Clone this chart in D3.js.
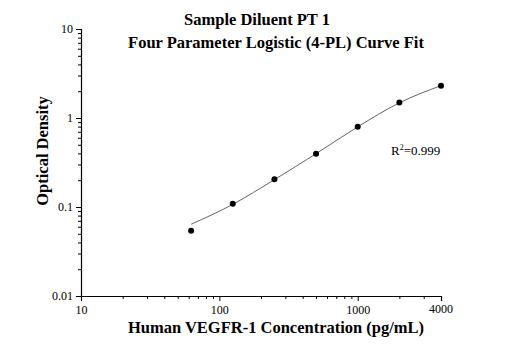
<!DOCTYPE html>
<html>
<head>
<meta charset="utf-8">
<script src="https://cdn.jsdelivr.net/npm/d3@7"></script>
<style>
  body { margin: 0; background: #fff; }
  text { font-family: "Liberation Serif", "Times New Roman", serif; fill: #000; }
</style>
</head>
<body>
<div id="chart"></div>
<script>
// Data
const concentrations = [62.5, 125, 250, 500, 1000, 2000, 4000];
const odValues = [0.054, 0.109, 0.205, 0.397, 0.798, 1.49, 2.31];
// Fitted 4-PL curve, read at the standard points
const curveX = [62.5, 125, 250, 500, 1000, 2000, 4000];
const curveY = [0.064, 0.107, 0.203, 0.397, 0.795, 1.48, 2.31];

const xMajor = [10, 100, 1000];
const xMinor = [20, 30, 40, 50, 60, 70, 80, 90, 200, 300, 400, 500, 600, 700, 800, 900, 2000, 3000, 4000];
const yMajor = [0.01, 0.1, 1, 10];
const yMinor = [0.02, 0.03, 0.04, 0.05, 0.06, 0.07, 0.08, 0.09,
  0.2, 0.3, 0.4, 0.5, 0.6, 0.7, 0.8, 0.9, 2, 3, 4, 5, 6, 7, 8, 9];

const W = 512, H = 352;
const margin = { top: 29, right: 71, bottom: 56, left: 81 };

const svg = d3.select("#chart").append("svg")
  .attr("width", W).attr("height", H);

const x = d3.scaleLog().domain([10, 4000]).range([margin.left, W - margin.right]);
const y = d3.scaleLog().domain([0.01, 10]).range([H - margin.bottom, margin.top]);

// Titles
svg.append("text").attr("x", 257).attr("y", 25)
  .attr("text-anchor", "middle").attr("font-weight", "bold").attr("font-size", 16.5)
  .text("Sample Diluent PT 1");
svg.append("text").attr("x", 276).attr("y", 48)
  .attr("text-anchor", "middle").attr("font-weight", "bold").attr("font-size", 16.5)
  .text("Four Parameter Logistic (4-PL) Curve Fit");

// Y axis
svg.append("g").attr("transform", `translate(${margin.left},0)`)
  .call(d3.axisLeft(y).tickValues(yMajor).tickFormat(d3.format("")).tickSize(5).tickPadding(3));
svg.append("g").attr("transform", `translate(${margin.left},0)`)
  .call(d3.axisLeft(y).tickValues(yMinor).tickFormat("").tickSize(3))
  .select(".domain").remove();

// X axis
svg.append("g").attr("transform", `translate(0,${H - margin.bottom})`)
  .call(d3.axisBottom(x).tickValues(xMajor).tickFormat(d3.format("")).tickSize(5).tickPadding(4));
svg.append("g").attr("transform", `translate(0,${H - margin.bottom})`)
  .call(d3.axisBottom(x).tickValues(xMinor).tickFormat("").tickSize(3))
  .select(".domain").remove();
// 4000 end label
svg.append("text").attr("x", x(4000)).attr("y", H - margin.bottom + 17)
  .attr("text-anchor", "middle").attr("font-size", 12).text("4000");

svg.selectAll(".domain").attr("stroke", "#000").attr("stroke-width", 1.2);
svg.selectAll(".tick line").attr("stroke", "#000");
svg.selectAll(".tick text").attr("font-size", 12).attr("font-family", "Liberation Serif").attr("fill", "#000");

// Axis titles
svg.append("text")
  .attr("transform", "translate(48,151) rotate(-90)")
  .attr("text-anchor", "middle").attr("font-weight", "bold").attr("font-size", 16.5)
  .text("Optical Density");
svg.append("text").attr("x", 276).attr("y", 333)
  .attr("text-anchor", "middle").attr("font-weight", "bold").attr("font-size", 16.5)
  .text("Human VEGFR-1 Concentration (pg/mL)");

// Fit curve
const line = d3.line().x((d, i) => x(curveX[i])).y(d => y(d)).curve(d3.curveMonotoneX);
svg.append("path").datum(curveY)
  .attr("d", line).attr("fill", "none").attr("stroke", "#666").attr("stroke-width", 1);

// Points
svg.selectAll("circle.pt").data(odValues).join("circle")
  .attr("class", "pt")
  .attr("cx", (d, i) => x(concentrations[i]))
  .attr("cy", d => y(d))
  .attr("r", 3).attr("fill", "#000");

// R squared
const r2 = svg.append("text").attr("x", 391).attr("y", 155).attr("font-size", 13);
r2.append("tspan").text("R");
r2.append("tspan").attr("dy", -5).attr("font-size", 8).text("2");
r2.append("tspan").attr("dy", 5).text("=0.999");
</script>
</body>
</html>
